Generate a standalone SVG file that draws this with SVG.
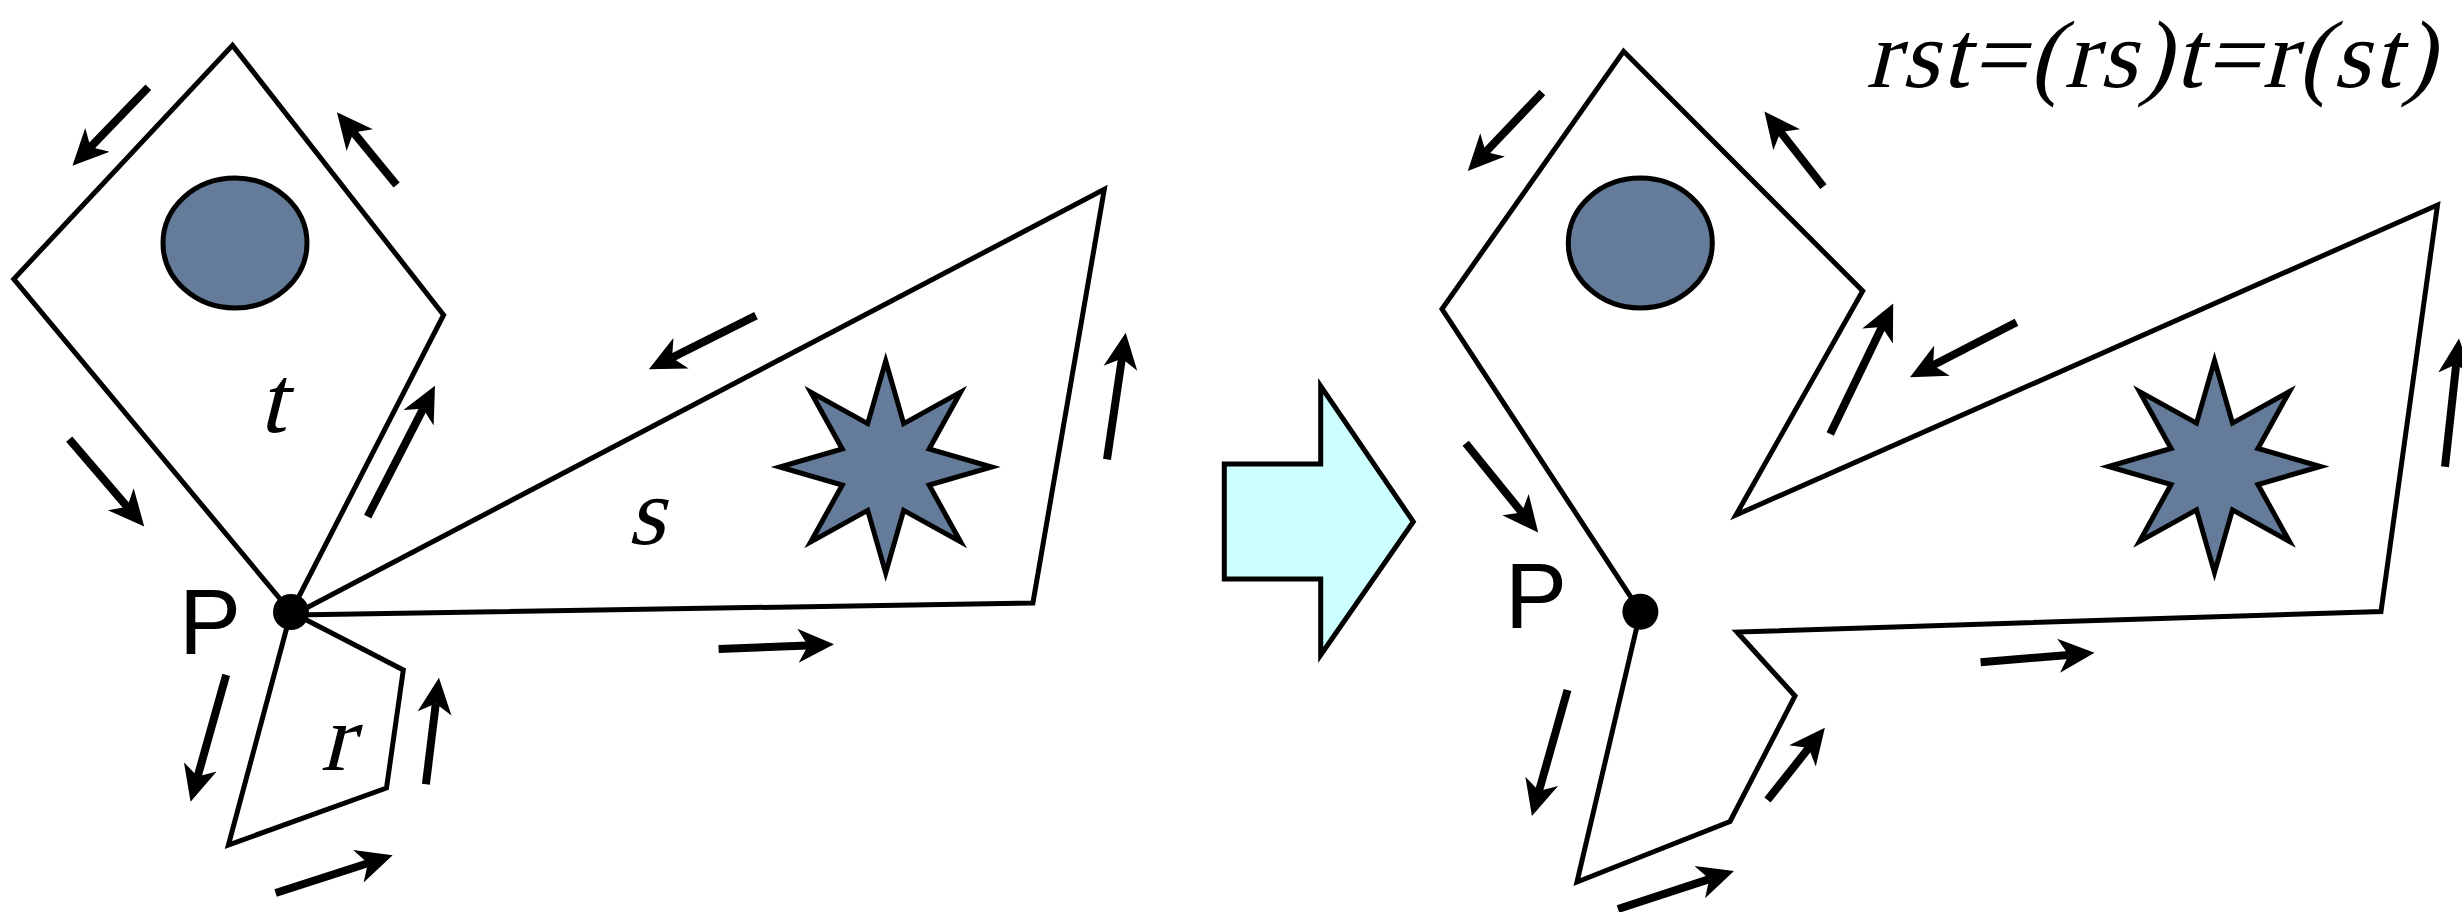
<svg xmlns="http://www.w3.org/2000/svg" xmlns:xlink="http://www.w3.org/1999/xlink" width="2462" height="912" viewBox="0 0 2462 912">
<style>
.poly{fill:none;stroke:#000;stroke-width:5;stroke-linejoin:miter}
.blob{fill:#647C99;stroke:#000;stroke-width:5}
.dot{fill:#000}
.arr{stroke:#000;stroke-width:8;stroke-linecap:butt;fill:none;marker-end:url(#head)}
.lbl{font-family:"Liberation Serif","Times New Roman",serif;font-style:normal;font-size:96px;fill:#000}
.P{font-family:"Liberation Sans",Arial,sans-serif;font-size:93px;fill:#000}
.big{fill:#CCFFFF;stroke:#000;stroke-width:5}
</style>
<defs>
<marker id="head" markerUnits="userSpaceOnUse" markerWidth="40" markerHeight="40" viewBox="0 -20 40 40" refX="10" refY="0" orient="auto">
<path d="M0,-17 L36,0 L0,17 L10,0 Z" fill="#000"/>
</marker>
<path id="star" d="M0,-106 L17.99,-43.42 L74.95,-74.95 L43.42,-17.99 L106,0 L43.42,17.99 L74.95,74.95 L17.99,43.42 L0,106 L-17.99,43.42 L-74.95,74.95 L-43.42,17.99 L-106,0 L-43.42,-17.99 L-74.95,-74.95 L-17.99,-43.42 Z"/>
</defs>
<rect width="2462" height="912" fill="#fff"/>

<g id="left-t">
<polygon class="poly" points="232.5,45.4 443.6,315 291,612 13.8,279"/>
<ellipse class="blob" cx="235" cy="243" rx="72" ry="65"/>
<g transform="translate(272,432) skewX(-14)"><text class="lbl" x="0" y="0" text-anchor="middle">t</text></g>
</g>
<g id="left-s">
<polygon class="poly" points="293,615 1104.3,189.3 1032.9,603 "/>
<use href="#star" xlink:href="#star" class="blob" transform="translate(885.7,467)"/>
<g transform="translate(646,544) skewX(-14)"><text class="lbl" x="0" y="0" text-anchor="middle">s</text></g>
</g>
<g id="left-r">
<polygon class="poly" points="291,612 403.3,670 386.5,788 228.4,845"/>
<g transform="translate(336.5,770) skewX(-14)"><text class="lbl" x="0" y="0" text-anchor="middle">r</text></g>
</g>
<g id="left-P">
<circle class="dot" cx="291" cy="612" r="18"/>
<text class="P" x="179" y="654">P</text>
</g>

<g id="transform-arrow">
<polygon class="big" points="1224.3,464 1320.7,464 1320.7,386 1413.3,521.7 1320.7,655 1320.7,579 1224.3,579"/>
</g>

<g id="right-rst">
<polygon class="poly" points="1640.4,611.7 1442,309 1623.6,51.3 1862.7,291 1736,515 2437.5,205 2381,611.5 1737,632 1795,696 1730,821.5 1577,882"/>
<ellipse class="blob" cx="1640.3" cy="243" rx="72" ry="65"/>
<use href="#star" xlink:href="#star" class="blob" transform="translate(2214.5,466.5)"/>
</g>
<g id="right-P">
<circle class="dot" cx="1640.4" cy="611.7" r="18"/>
<text class="P" x="1505" y="628" font-size="96">P</text>
</g>

<g id="formula">
<g transform="translate(1866,87) skewX(-14)"><text class="lbl" x="0" y="0" font-size="97" textLength="569" lengthAdjust="spacing">rst=(rs)t=r(st)</text></g>
</g>

<g id="arrows">
<line class="arr" x1="148.3" y1="87.3" x2="90.5" y2="147.1"/>
<line class="arr" x1="396.6" y1="185" x2="353.4" y2="132.4"/>
<line class="arr" x1="69.2" y1="439.2" x2="127.3" y2="506.8"/>
<line class="arr" x1="367.7" y1="516.6" x2="423.1" y2="408.8"/>
<line class="arr" x1="226.2" y1="674.8" x2="197.6" y2="776.6"/>
<line class="arr" x1="425.9" y1="784.2" x2="435.8" y2="703.5"/>
<line class="arr" x1="275.6" y1="893" x2="367.9" y2="863.2"/>
<line class="arr" x1="756" y1="315.7" x2="672.1" y2="357.7"/>
<line class="arr" x1="1107" y1="459.3" x2="1121.9" y2="358.4"/>
<line class="arr" x1="718.6" y1="649" x2="808" y2="645.4"/>
<line class="arr" x1="1542.3" y1="92.4" x2="1485.7" y2="152.1"/>
<line class="arr" x1="1823.4" y1="186.6" x2="1780.5" y2="132"/>
<line class="arr" x1="1465.7" y1="443.3" x2="1521.8" y2="512.4"/>
<line class="arr" x1="1830.2" y1="434" x2="1881.9" y2="327"/>
<line class="arr" x1="2016.5" y1="322.3" x2="1933.1" y2="365.3"/>
<line class="arr" x1="2445" y1="466.7" x2="2456.2" y2="364.3"/>
<line class="arr" x1="1980.6" y1="662.3" x2="2068.6" y2="654.9"/>
<line class="arr" x1="1567.5" y1="690" x2="1539" y2="791"/>
<line class="arr" x1="1767.5" y1="800" x2="1808.7" y2="748.1"/>
<line class="arr" x1="1618" y1="909" x2="1709.3" y2="879.1"/>
</g>
</svg>
